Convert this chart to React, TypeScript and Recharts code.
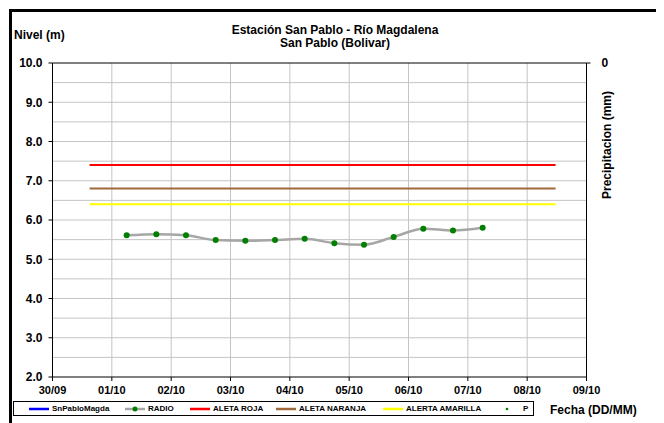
import React from "react";
import {
  CartesianGrid,
  ComposedChart,
  Legend,
  Line,
  ReferenceLine,
  Scatter,
  XAxis,
  YAxis,
} from "recharts";

const xTickLabels = ["30/09", "01/10", "02/10", "03/10", "04/10", "05/10", "06/10", "07/10", "08/10", "09/10"];
const yTicks = [2, 3, 4, 5, 6, 7, 8, 9, 10];
const yGridValues = [2.5, 3, 3.5, 4, 4.5, 5, 5.5, 6, 6.5, 7, 7.5, 8, 8.5, 9, 9.5];
const precipTicks = [0];

const radioTimes = [
  "01/10 06:00", "01/10 18:00", "02/10 06:00", "02/10 18:00", "03/10 06:00",
  "03/10 18:00", "04/10 06:00", "04/10 18:00", "05/10 06:00", "05/10 18:00",
  "06/10 06:00", "06/10 18:00", "07/10 06:00",
];
const radioLevels = [5.61, 5.64, 5.61, 5.49, 5.47, 5.49, 5.52, 5.41, 5.37, 5.57, 5.78, 5.73, 5.8];

const alertTimes = ["30/09 15:00", "08/10 11:30"];
const alertaRoja = 7.4;
const alertaNaranja = 6.8;
const alertaAmarilla = 6.4;

// sin datos en el periodo
const snPabloMagda: { t: number; v: number }[] = [];
const precipitacion: { t: number; v: number }[] = [];

// dias desde 30/09 00:00
function toDay(s: string): number {
  const [date, time] = s.split(" ");
  const [dd, mm] = date.split("/").map(Number);
  const [hh, mi] = (time || "00:00").split(":").map(Number);
  const day = mm === 9 ? dd - 30 : dd;
  return day + (hh + mi / 60) / 24;
}

const xTicks = xTickLabels.map(toDay);
const radioData = radioTimes.map((t, i) => ({ t: toDay(t), v: radioLevels[i] }));
const alertLine = (level: number) => alertTimes.map((t) => ({ t: toDay(t), v: level }));

const FONT = "'Liberation Sans', Arial, sans-serif";

// geometria del grafico
const CHART_W = 650;
const CHART_H = 415;
const MARGIN = { top: 55, right: 0.5, bottom: 26, left: 0.5 };
const LEFT_AXIS_W = 44;
const RIGHT_AXIS_W = 71;
const X_AXIS_H = 20;
const Y_MIN = 2;
const Y_MAX = 10;

// rejilla horizontal (cada 0.5 m) dibujada detras del grafico
function HorizontalGrid() {
  const left = MARGIN.left + LEFT_AXIS_W;
  const right = CHART_W - MARGIN.right - RIGHT_AXIS_W;
  const top = MARGIN.top;
  const height = CHART_H - MARGIN.top - MARGIN.bottom - X_AXIS_H;
  const yOf = (v: number) => top + ((Y_MAX - v) / (Y_MAX - Y_MIN)) * height;
  return (
    <svg width={CHART_W} height={CHART_H} style={{ position: "absolute", left: 0, top: 0 }}>
      {yGridValues.map((v) => (
        <line key={v} x1={left} x2={right} y1={yOf(v)} y2={yOf(v)} stroke="#c4c4c4" strokeWidth={1} />
      ))}
    </svg>
  );
}

function LegendBox() {
  const items = [
    { name: "SnPabloMagda", color: "#0000ff", kind: "line", left: 15 },
    { name: "RADIO", color: "#a6a6a6", kind: "lineDot", left: 111 },
    { name: "ALETA ROJA", color: "#ff0000", kind: "line", left: 176 },
    { name: "ALETA NARANJA", color: "#a0693c", kind: "line", left: 262 },
    { name: "ALERTA AMARILLA", color: "#ffff00", kind: "line", left: 369 },
    { name: "P", color: "#008000", kind: "dot", left: 478 },
  ];
  return (
    <div
      style={{
        position: "relative",
        width: 519,
        height: 13,
        border: "1px solid #000",
        background: "#fff",
        fontFamily: FONT,
        fontWeight: "bold",
        fontSize: 8,
      }}
    >
      {items.map((it) => (
        <div
          key={it.name}
          style={{ position: "absolute", left: it.left, top: 0, height: 13, display: "flex", alignItems: "center" }}
        >
          <svg width={22} height={8}>
            {it.kind !== "dot" && <line x1={0} y1={4} x2={20} y2={4} stroke={it.color} strokeWidth={2.5} />}
            {it.kind === "lineDot" && <circle cx={10} cy={4} r={2.5} fill="#008000" />}
            {it.kind === "dot" && <circle cx={15} cy={4} r={1.3} fill={it.color} />}
          </svg>
          <span style={{ marginLeft: it.kind === "dot" ? 9 : 1 }}>{it.name}</span>
        </div>
      ))}
    </div>
  );
}

function PrecipTick(props: any) {
  const { x, y, payload } = props;
  return (
    <text x={x + 9} y={y + 4} fontFamily={FONT} fontWeight="bold" fontSize={12} fill="#000">
      {payload.value}
    </text>
  );
}

export default function App() {
  const tickStyle = { fill: "#000", fontSize: 11, fontWeight: "bold" as const, fontFamily: FONT };
  return (
    <div style={{ position: "relative", width: 656, height: 420, overflow: "hidden" }}>
      <div
        style={{
          position: "absolute",
          left: 1,
          top: 1,
          width: 650,
          height: 440,
          border: "3px solid #000",
          boxSizing: "border-box",
        }}
      />
      <HorizontalGrid />
      <div style={{ position: "absolute", left: 0, top: 0 }}>
        <ComposedChart width={CHART_W} height={CHART_H} margin={MARGIN}>
          <CartesianGrid stroke="#c4c4c4" horizontal={false} verticalValues={xTicks} />
          <XAxis
            type="number"
            dataKey="t"
            domain={[0, 9]}
            ticks={xTicks}
            tickFormatter={(v: number) => xTickLabels[Math.round(v)]}
            stroke="#000"
            tickSize={4}
            tickMargin={5}
            height={X_AXIS_H}
            tick={tickStyle}
            interval={0}
            allowDataOverflow
          />
          <YAxis
            yAxisId="left"
            type="number"
            domain={[Y_MIN, Y_MAX]}
            ticks={yTicks}
            tickFormatter={(v: number) => v.toFixed(1)}
            stroke="#000"
            width={LEFT_AXIS_W}
            tickSize={4}
            tickMargin={6}
            tick={{ ...tickStyle, fontSize: 12 }}
            interval={0}
            allowDataOverflow
          />
          <YAxis
            yAxisId="right"
            orientation="right"
            type="number"
            domain={[0, 100]}
            reversed
            ticks={precipTicks}
            interval={0}
            stroke="#000"
            width={RIGHT_AXIS_W}
            tickSize={4}
            tick={<PrecipTick />}
            allowDataOverflow
          />
          <ReferenceLine yAxisId="left" y={10} stroke="#000" />
          <Line
            yAxisId="left"
            data={snPabloMagda}
            dataKey="v"
            name="SnPabloMagda"
            stroke="#0000ff"
            strokeWidth={2}
            dot={false}
            isAnimationActive={false}
          />
          <Line
            yAxisId="left"
            data={alertLine(alertaRoja)}
            dataKey="v"
            name="ALETA ROJA"
            stroke="#ff0000"
            strokeWidth={2}
            dot={false}
            isAnimationActive={false}
          />
          <Line
            yAxisId="left"
            data={alertLine(alertaNaranja)}
            dataKey="v"
            name="ALETA NARANJA"
            stroke="#a0693c"
            strokeWidth={2}
            dot={false}
            isAnimationActive={false}
          />
          <Line
            yAxisId="left"
            data={alertLine(alertaAmarilla)}
            dataKey="v"
            name="ALERTA AMARILLA"
            stroke="#ffff00"
            strokeWidth={2}
            dot={false}
            isAnimationActive={false}
          />
          <Line
            yAxisId="left"
            data={radioData}
            dataKey="v"
            name="RADIO"
            type="monotone"
            stroke="#a6a6a6"
            strokeWidth={2.5}
            dot={{ r: 3, fill: "#008000", stroke: "#008000", strokeWidth: 0 }}
            isAnimationActive={false}
          />
          <Scatter
            yAxisId="right"
            data={precipitacion}
            dataKey="v"
            name="P"
            fill="#008000"
            isAnimationActive={false}
          />
          <Legend
            layout="vertical"
            align="center"
            verticalAlign="middle"
            content={() => <LegendBox />}
            wrapperStyle={{ position: "absolute", left: 5, top: 393, width: 521, height: 15 }}
          />
          <text x={327} y={26} textAnchor="middle" fontFamily={FONT} fontWeight="bold" fontSize={12}>
            Estación San Pablo - Río Magdalena
          </text>
          <text x={327} y={39} textAnchor="middle" fontFamily={FONT} fontWeight="bold" fontSize={12}>
            San Pablo (Bolivar)
          </text>
          <text x={6} y={31} fontFamily={FONT} fontWeight="bold" fontSize={12}>
            Nivel (m)
          </text>
          <text x={542} y={406} fontFamily={FONT} fontWeight="bold" fontSize={12}>
            Fecha (DD/MM)
          </text>
          <text
            x={599}
            y={137}
            textAnchor="middle"
            dominantBaseline="central"
            transform="rotate(-90 599 137)"
            fontFamily={FONT}
            fontWeight="bold"
            fontSize={12}
          >
            Precipitacion (mm)
          </text>
        </ComposedChart>
      </div>
    </div>
  );
}
